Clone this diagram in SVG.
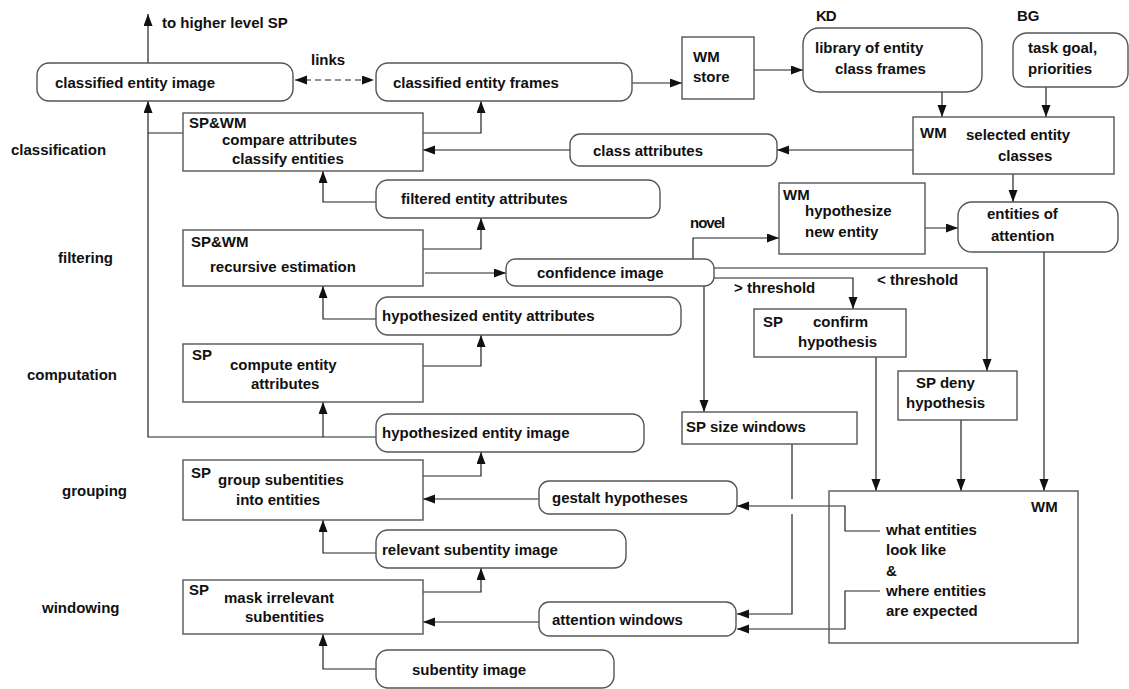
<svg xmlns="http://www.w3.org/2000/svg" width="1129" height="689" viewBox="0 0 1129 689">
  <defs>
    <marker id="arrow" markerUnits="userSpaceOnUse" markerWidth="13" markerHeight="10" refX="12" refY="4.5" orient="auto-start-reverse">
      <path d="M0,0 L12,4.5 L0,9 z" fill="#111"/>
    </marker>
    <style>
      text { font-family: "Liberation Sans", Arial, sans-serif; font-size: 15px; font-weight: bold; fill: #111; }
      .heavy { letter-spacing: -1px; }
      .box { fill: #fff; stroke: #555; stroke-width: 1.4; }
      .store { fill: #fff; stroke: #555; stroke-width: 1.4; }
      .wire { fill: none; stroke: #222; stroke-width: 1.2; }
      .arr { marker-end: url(#arrow); }
      .dash { stroke-dasharray: 6 4; marker-start: url(#arrow); marker-end: url(#arrow); }
    </style>
  </defs>
  <rect width="1129" height="689" fill="#fff"/>

  <!-- level labels -->
  <g id="levels">
    <text x="11" y="155">classification</text>
    <text x="58" y="263">filtering</text>
    <text x="27" y="380">computation</text>
    <text x="62" y="496">grouping</text>
    <text x="42" y="613">windowing</text>
  </g>

  <!-- connectors -->
  <g id="connectors">
    <path class="wire arr" d="M148,63 V14"/>
    <path class="wire dash" d="M295,80 H374"/>
    <path class="wire arr" d="M376,437 H148 V101"/>
    <path class="wire" d="M183,133 H148"/>
    <path class="wire arr" d="M323,437 V402"/>
    <path class="wire arr" d="M376,202 H323 V171"/>
    <path class="wire arr" d="M376,319 H323 V286"/>
    <path class="wire arr" d="M376,553 H323 V520"/>
    <path class="wire arr" d="M376,669 H323 V634"/>
    <path class="wire arr" d="M423,133 H481 V101"/>
    <path class="wire arr" d="M423,249 H481 V218"/>
    <path class="wire arr" d="M425,273 H506"/>
    <path class="wire arr" d="M423,366 H481 V335"/>
    <path class="wire arr" d="M423,476 H481 V452"/>
    <path class="wire arr" d="M423,592 H481 V568"/>
    <path class="wire arr" d="M539,499 H423"/>
    <path class="wire arr" d="M539,622 H423"/>
    <path class="wire arr" d="M570,150 H423"/>
    <path class="wire arr" d="M913,150 H777"/>
    <path class="wire arr" d="M632,83 H682"/>
    <path class="wire arr" d="M754,70 H803"/>
    <path class="wire arr" d="M942,92 V117"/>
    <path class="wire arr" d="M1046,87 V117"/>
    <path class="wire arr" d="M1013,174 V202"/>
    <path class="wire arr" d="M925,228 H958"/>
    <path class="wire arr" d="M1044,252 V491"/>
    <path class="wire arr" d="M693,259 V238 H779"/>
    <path class="wire arr" d="M714,268 H987 V371"/>
    <path class="wire arr" d="M714,278 H853 V309"/>
    <path class="wire arr" d="M704,286 V412"/>
    <path class="wire arr" d="M876,357 V491"/>
    <path class="wire arr" d="M961,420 V491"/>
    <path class="wire" d="M792,444 V499"/>
    <path class="wire arr" d="M792,514 V614 H737"/>
    <path class="wire arr" d="M880,531 H845 V506 H737"/>
    <path class="wire arr" d="M880,591 H845 V629 H737"/>
  </g>

  <!-- free labels -->
  <g id="labels">
    <text x="162" y="28">to higher level SP</text>
    <text x="311" y="65">links</text>
    <text class="heavy" x="816" y="21">KD</text>
    <text x="1017" y="21">BG</text>
    <text class="heavy" x="690" y="228">novel</text>
    <text x="734" y="293">&gt; threshold</text>
    <text x="877" y="285">&lt; threshold</text>
  </g>

  <g id="classified-entity-image">
    <rect class="box" x="37" y="63" width="256" height="38" rx="12"/>
    <text x="55" y="88">classified entity image</text>
  </g>
  <g id="classified-entity-frames">
    <rect class="box" x="376" y="63" width="256" height="38" rx="12"/>
    <text x="393" y="88">classified entity frames</text>
  </g>
  <g id="wm-store">
    <rect class="store" x="682" y="37" width="72" height="62"/>
    <text x="693" y="62">WM</text>
    <text x="693" y="82">store</text>
  </g>
  <g id="entity-class-library">
    <rect class="box" x="803" y="28" width="179" height="64" rx="16"/>
    <text x="815" y="53">library of entity</text>
    <text x="835" y="74">class frames</text>
  </g>
  <g id="task-goal">
    <rect class="box" x="1013" y="33" width="115" height="54" rx="14"/>
    <text x="1028" y="53">task goal,</text>
    <text x="1028" y="74">priorities</text>
  </g>
  <g id="selected-entity-classes">
    <rect class="store" x="913" y="117" width="201" height="57"/>
    <text x="920" y="138">WM</text>
    <text x="966" y="140">selected entity</text>
    <text x="998" y="161">classes</text>
  </g>
  <g id="class-attributes">
    <rect class="box" x="570" y="134" width="207" height="32" rx="10"/>
    <text x="593" y="156">class attributes</text>
  </g>
  <g id="classify">
    <rect class="store" x="183" y="113" width="240" height="58"/>
    <text x="189" y="128">SP&amp;WM</text>
    <text x="222" y="145">compare attributes</text>
    <text x="232" y="164">classify entities</text>
  </g>
  <g id="filtered-entity-attributes">
    <rect class="box" x="376" y="180" width="284" height="38" rx="12"/>
    <text x="401" y="204">filtered entity attributes</text>
  </g>
  <g id="hypothesize-new-entity">
    <rect class="store" x="779" y="183" width="146" height="71"/>
    <text x="783" y="200">WM</text>
    <text x="805" y="216">hypothesize</text>
    <text x="805" y="237">new entity</text>
  </g>
  <g id="entities-of-attention">
    <rect class="box" x="958" y="202" width="160" height="50" rx="14"/>
    <text x="987" y="219">entities of</text>
    <text x="991" y="241">attention</text>
  </g>
  <g id="recursive-estimation">
    <rect class="store" x="183" y="230" width="240" height="56"/>
    <text x="191" y="247">SP&amp;WM</text>
    <text x="210" y="272">recursive estimation</text>
  </g>
  <g id="confidence-image">
    <rect class="box" x="506" y="259" width="208" height="27" rx="9"/>
    <text x="537" y="278">confidence image</text>
  </g>
  <g id="hypothesized-entity-attributes">
    <rect class="box" x="376" y="297" width="305" height="38" rx="12"/>
    <text x="382" y="321">hypothesized entity attributes</text>
  </g>
  <g id="confirm-hypothesis">
    <rect class="store" x="754" y="309" width="152" height="48"/>
    <text x="763" y="327">SP</text>
    <text x="813" y="327">confirm</text>
    <text x="798" y="347">hypothesis</text>
  </g>
  <g id="deny-hypothesis">
    <rect class="store" x="898" y="371" width="119" height="49"/>
    <text x="916" y="388">SP  deny</text>
    <text x="906" y="408">hypothesis</text>
  </g>
  <g id="compute-attributes">
    <rect class="store" x="183" y="344" width="240" height="58"/>
    <text x="192" y="360">SP</text>
    <text x="230" y="370">compute entity</text>
    <text x="251" y="389">attributes</text>
  </g>
  <g id="size-windows">
    <rect class="store" x="682" y="412" width="175" height="32"/>
    <text x="686" y="432">SP  size windows</text>
  </g>
  <g id="hypothesized-entity-image">
    <rect class="box" x="376" y="414" width="268" height="38" rx="12"/>
    <text x="382" y="438">hypothesized entity image</text>
  </g>
  <g id="group-subentities">
    <rect class="store" x="183" y="460" width="240" height="60"/>
    <text x="191" y="478">SP</text>
    <text x="218" y="485">group subentities</text>
    <text x="236" y="505">into entities</text>
  </g>
  <g id="gestalt-hypotheses">
    <rect class="box" x="539" y="481" width="198" height="33" rx="10"/>
    <text x="552" y="503">gestalt hypotheses</text>
  </g>
  <g id="wm-expectations">
    <rect class="store" x="829" y="491" width="249" height="152" style="fill:none"/>
    <text x="1031" y="512">WM</text>
    <text x="886" y="535">what entities</text>
    <text x="886" y="555">look like</text>
    <text x="886" y="576">&amp;</text>
    <text x="886" y="596">where entities</text>
    <text x="886" y="616">are expected</text>
  </g>
  <g id="relevant-subentity-image">
    <rect class="box" x="376" y="530" width="250" height="38" rx="12"/>
    <text x="382" y="555">relevant subentity image</text>
  </g>
  <g id="mask-subentities">
    <rect class="store" x="183" y="580" width="240" height="54"/>
    <text x="189" y="595">SP</text>
    <text x="224" y="603">mask irrelevant</text>
    <text x="245" y="622">subentities</text>
  </g>
  <g id="attention-windows">
    <rect class="box" x="539" y="602" width="197" height="34" rx="10"/>
    <text x="552" y="625">attention windows</text>
  </g>
  <g id="subentity-image">
    <rect class="box" x="376" y="650" width="238" height="38" rx="12"/>
    <text x="412" y="675">subentity image</text>
  </g>
</svg>
